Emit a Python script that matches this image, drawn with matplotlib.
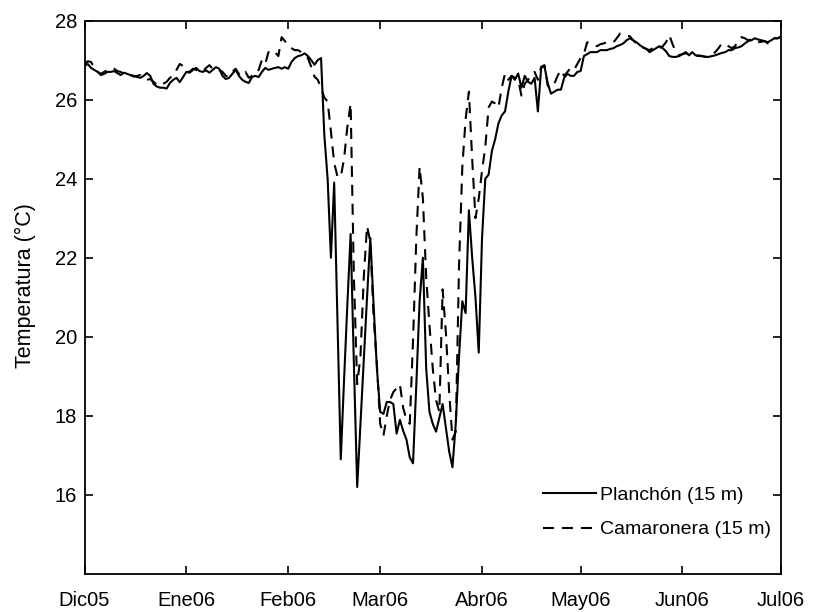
import matplotlib
matplotlib.use("Agg")
import matplotlib.pyplot as plt
import pandas as pd

plt.rcParams['font.family'] = ['Liberation Sans', 'DejaVu Sans']

start_date = '2005-12-01'
month_ticks = ['2005-12-01', '2006-01-01', '2006-02-01', '2006-03-01',
               '2006-04-01', '2006-05-01', '2006-06-01', '2006-07-01']
month_labels = ['Dic05', 'Ene06', 'Feb06', 'Mar06', 'Abr06', 'May06', 'Jun06', 'Jul06']
y_ticks = [16, 18, 20, 22, 24, 26, 28]

planchon = [
    26.85, 26.9, 26.8, 26.75, 26.7, 26.62, 26.65, 26.7, 26.7, 26.72,
    26.67, 26.62, 26.68, 26.65, 26.62, 26.6, 26.57, 26.55, 26.6, 26.67,
    26.6, 26.4, 26.33, 26.3, 26.3, 26.28, 26.42, 26.5, 26.55, 26.44,
    26.57, 26.7, 26.68, 26.75, 26.8, 26.72, 26.7, 26.74, 26.68, 26.75,
    26.82, 26.78, 26.6, 26.52, 26.55, 26.65, 26.75, 26.6, 26.5, 26.45,
    26.42, 26.57, 26.6, 26.57, 26.7, 26.8, 26.75, 26.78, 26.8, 26.82,
    26.78, 26.82, 26.78, 26.95, 27.05, 27.1, 27.12, 27.17, 27.1, 27.0,
    26.88, 27.0, 27.05, 25.1, 24.0, 22.0, 23.9, 20.4, 16.9, 18.9,
    20.8, 22.6, 19.3, 16.2, 17.8, 19.4, 21.0, 22.5, 20.8, 19.2,
    18.1, 18.05, 18.35, 18.35, 18.3, 17.55, 17.9, 17.62, 17.4, 16.95,
    16.8, 18.8, 20.9, 22.0, 19.2, 18.1, 17.8, 17.6, 17.95, 18.3,
    17.7, 17.1, 16.7, 17.8, 19.5, 20.9, 20.6, 23.2, 22.0, 21.0,
    19.6, 22.5, 24.0, 24.1, 24.7, 25.0, 25.4, 25.6, 25.7, 26.2,
    26.6, 26.5, 26.66, 26.3, 26.6, 26.45, 26.4, 26.55, 25.7, 26.8,
    26.85, 26.4, 26.15, 26.2, 26.25, 26.25, 26.55, 26.65, 26.6, 26.6,
    26.7, 26.72, 27.1, 27.15, 27.2, 27.2, 27.2, 27.25, 27.25, 27.25,
    27.28, 27.3, 27.35, 27.38, 27.42, 27.5, 27.55, 27.5, 27.45, 27.38,
    27.32, 27.28, 27.2, 27.25, 27.3, 27.35, 27.3, 27.22, 27.1, 27.08,
    27.08, 27.1, 27.15, 27.2, 27.12, 27.2, 27.12, 27.1, 27.1, 27.08,
    27.08, 27.1, 27.12, 27.15, 27.18, 27.2, 27.25, 27.25, 27.3, 27.32,
    27.35, 27.42, 27.48, 27.5, 27.55, 27.52, 27.5, 27.48, 27.45, 27.5,
    27.55, 27.55, 27.58,
]

camaronera = [
    26.9, 26.97, 26.95, 26.8, 26.7, 26.65, 26.7, 26.75, 26.8, 26.78,
    26.72, 26.7, 26.65, 26.68, 26.62, 26.58, 26.6, 26.62, 26.55, 26.5,
    26.52, 26.45, 26.38, 26.35, 26.4, 26.45, 26.55, 26.6, 26.75, 26.9,
    26.85, 26.72, 26.7, 26.78, 26.75, 26.7, 26.72, 26.8, 26.87, 26.78,
    26.8, 26.75, 26.7, 26.6, 26.58, 26.7, 26.78, 26.65, 26.6, 26.7,
    26.55, 26.6, 26.62, 26.75, 27.0, 26.9, 27.2, 27.15, 27.2, 27.1,
    27.58, 27.48, 27.35, 27.3, 27.25, 27.25, 27.2, 27.15, 27.05, 26.83,
    26.58, 26.5, 26.3, 26.05, 25.95, 25.2, 24.4, 24.05, 24.04, 24.5,
    25.3, 25.9, 21.5, 18.8, 19.5, 21.5, 22.8, 22.4, 20.5, 19.3,
    17.8, 17.5, 18.0, 18.4, 18.6, 18.7, 18.8, 18.2, 17.9, 17.8,
    19.9, 22.5, 24.3, 23.5, 21.5, 20.3, 19.2, 18.4, 18.1, 21.2,
    20.1, 18.6, 17.4, 17.6, 21.8, 24.3, 25.5, 26.2, 24.5, 23.0,
    23.5, 24.2, 24.8, 25.8, 25.95, 25.9, 25.8, 26.3, 26.66, 26.5,
    26.6, 26.55, 26.5, 26.1, 26.4, 26.5, 26.6, 26.7, 26.5, 26.83,
    26.87, 26.35, 26.3, 26.4, 26.6, 26.75, 26.6, 26.7, 26.8, 26.75,
    26.9, 27.05, 27.15, 27.45, 27.42, 27.38, 27.35, 27.4, 27.42, 27.45,
    27.46, 27.45, 27.55, 27.67, 27.65, 27.62, 27.6, 27.5, 27.42, 27.38,
    27.32, 27.28, 27.25, 27.3, 27.34, 27.3, 27.35, 27.45, 27.63, 27.4,
    27.2, 27.12, 27.15, 27.17, 27.15, 27.12, 27.1, 27.12, 27.1, 27.08,
    27.1, 27.15, 27.2, 27.3, 27.42, 27.4, 27.35, 27.3, 27.35, 27.5,
    27.58, 27.55, 27.5, 27.52, 27.48, 27.45, 27.46, 27.48, 27.42, 27.45,
    27.55, 27.55, 27.6,
]

dates_p = pd.date_range(start_date, periods=len(planchon), freq='D')
dates_c = pd.date_range(start_date, periods=len(camaronera), freq='D')
tick_dates = pd.to_datetime(month_ticks)

fig = plt.figure(figsize=(8.13, 6.12), dpi=100)
ax = fig.add_axes([84.5 / 813, 38 / 612, 696.5 / 813, 553.5 / 612])

ax.plot(dates_p, planchon, color='black', lw=1.5, label='Planchón (15 m)')
ax.plot(dates_c, camaronera, color='black', lw=1.5, dashes=(5.3, 3.8),
        label='Camaronera (15 m)')

ax.set_xlim(tick_dates[0], tick_dates[-1])
ax.set_ylim(14, 28)
ax.set_xticks(tick_dates)
ax.set_xticklabels(month_labels)
ax.set_yticks(y_ticks)
ax.set_yticklabels([str(v) for v in y_ticks])

for s in ax.spines.values():
    s.set_linewidth(1.3)

ax.tick_params(axis='both', which='major', direction='in', length=5.8, width=1.2,
               top=True, right=True, labelsize=14.5, colors='black')
ax.tick_params(axis='x', pad=12)
ax.tick_params(axis='y', pad=5.4)

ax.set_ylabel('Temperatura (°C)', fontsize=15.5)
ax.yaxis.set_label_coords(-0.07, 0.522)

leg = ax.legend(loc='center left', bbox_to_anchor=(0.658, 0.111), frameon=False,
                fontsize=14, handlelength=2.75, handletextpad=0.2, labelspacing=0.85,
                borderpad=0, borderaxespad=0)

fig.savefig('out.png', dpi=100)
